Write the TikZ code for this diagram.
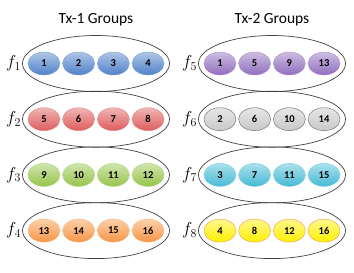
\documentclass[tikz,border=0pt]{standalone}
\usepackage{fontspec}
\setsansfont{Carlito}
\usepackage{tikz}
\usetikzlibrary{shapes.geometric,positioning}
\definecolor{bluecol}{RGB}{79,129,200}
\definecolor{redcol}{RGB}{222,92,92}
\definecolor{greencol}{RGB}{150,196,74}
\definecolor{orangecol}{RGB}{247,150,70}
\definecolor{purplecol}{RGB}{145,110,190}
\definecolor{graycol}{RGB}{200,200,200}
\definecolor{cyancol}{RGB}{70,186,212}
\definecolor{yellowcol}{RGB}{255,240,0}
\colorlet{grayrim}{black!60}
\tikzset{
  % group ring
  grpring/.style={ellipse, draw=black!75, line width=0.7pt, minimum width=147pt, minimum height=56pt, inner sep=0pt},
  % member disc
  mdisc/.style={ellipse, draw=#1!75!white, top color=#1!45!white, bottom color=#1, minimum width=32pt, minimum height=23pt,
                inner sep=0pt, font=\sffamily\bfseries\fontsize{10.5}{12}\selectfont},
  mdisc/.default={bluecol},
  % group label
  flabel/.style={font=\fontsize{16.5}{18}\selectfont, inner sep=0pt},
  % column title
  coltitle/.style={font=\sffamily\fontsize{15.5}{18}\selectfont},
}
\begin{document}
\begin{tikzpicture}[x=1pt,y=1pt]
  \useasboundingbox (0,0) rectangle (354,273);

  % titles
  \node[coltitle] (t1) at (96,253) {Tx-1 Groups};
  \node[coltitle] (t2) at (272,253) {Tx-2 Groups};

  % Tx-1 groups
  \foreach \g/\col/\ms [count=\r from 0] in {1/bluecol/{1,2,3,4}, 2/redcol/{5,6,7,8},
                                             3/greencol/{9,10,11,12}, 4/orangecol/{13,14,15,16}} {
    \node[grpring] (grp\g) at (96,{209.5-55.7*\r}) {};
    \node[flabel, left=1pt of grp\g.west] (lab\g) {$f_{\g}$};
    \foreach \m [count=\i] in \ms
      \node[mdisc=\col, xshift={(\i-2.5)*34.7pt}] (m\g-\i) at (grp\g) {\m};
  }

  % Tx-2 groups
  \foreach \g/\col/\rim/\ms [count=\r from 0] in {5/purplecol/purplecol!75!white/{1,5,9,13}, 6/graycol/grayrim/{2,6,10,14},
                                                  7/cyancol/cyancol!75!white/{3,7,11,15}, 8/yellowcol/orangecol/{4,8,12,16}} {
    \node[grpring] (grp\g) at (272,{209.5-55.7*\r}) {};
    \node[flabel, left=1pt of grp\g.west] (lab\g) {$f_{\g}$};
    \foreach \m [count=\i] in \ms
      \node[mdisc=\col, draw=\rim, xshift={(\i-2.5)*34.7pt}] (m\g-\i) at (grp\g) {\m};
  }
\end{tikzpicture}
\end{document}
